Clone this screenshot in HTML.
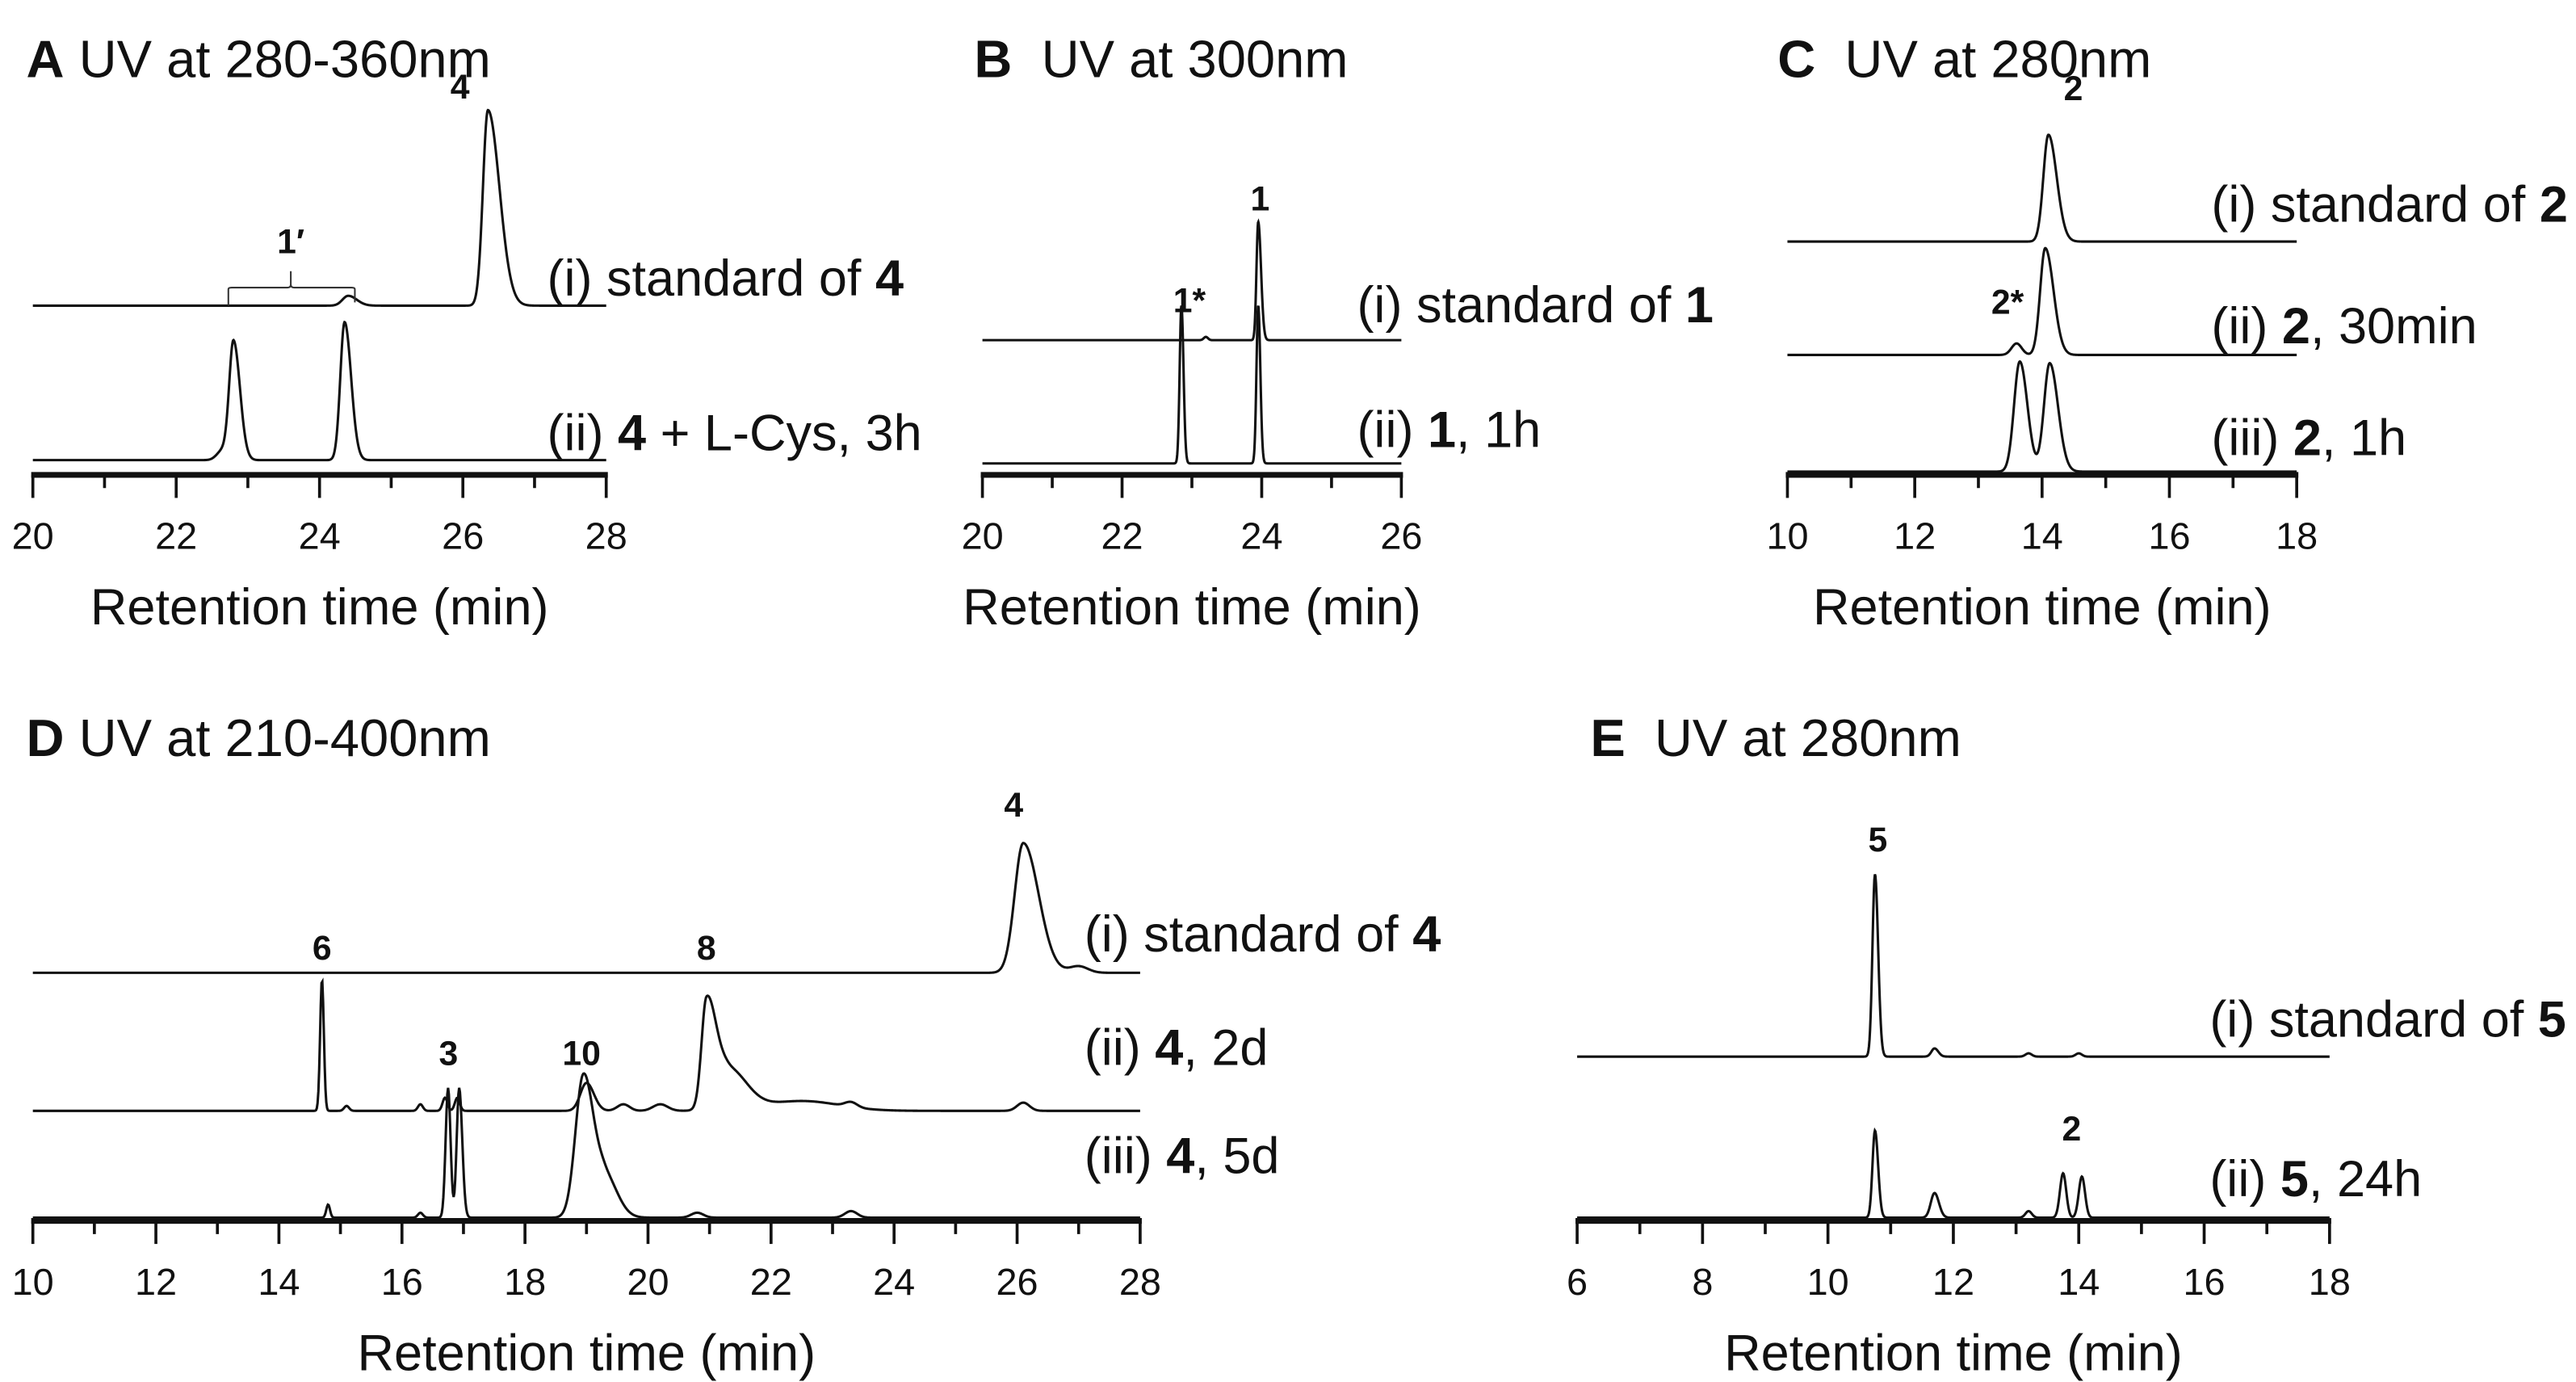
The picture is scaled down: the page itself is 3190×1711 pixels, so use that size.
<!DOCTYPE html>
<html><head><meta charset="utf-8"><style>
html,body{margin:0;padding:0;background:#fff;}
svg{display:block;}
text{font-family:"Liberation Sans",sans-serif;fill:#111;}
</style></head><body>
<svg id="fig" width="3190" height="1711" viewBox="0 0 1568 841" xmlns="http://www.w3.org/2000/svg"></svg>
<script>
// ---- data (retention time min, height, sigma-left, sigma-right) ----
const panelA_i = [[24.4,6,0.08,0.12],[26.35,119,0.07,0.16]];
const panelA_ii = [[22.8,72,0.06,0.09],[24.35,84,0.06,0.09],[22.65,6,0.08,0.08]];
const panelB_i = [[23.95,72,0.025,0.04],[23.2,2,0.03,0.03]];
const panelB_ii = [[22.85,96,0.025,0.03],[23.95,96,0.025,0.03]];
const panelC_i = [[14.1,65,0.08,0.13]];
const panelC_ii = [[13.6,7,0.08,0.08],[14.05,65,0.08,0.13]];
const panelC_iii = [[13.65,67,0.09,0.12],[14.12,66,0.09,0.13]];
const panelD_i = [[26.1,79,0.14,0.25],[27.0,4,0.15,0.15]];
const panelD_ii = [[14.7,80,0.03,0.03],[15.1,3,0.04,0.04],[16.3,4,0.04,0.04],[16.7,8,0.04,0.04],[16.9,8,0.04,0.04],[19.0,17,0.1,0.12],[19.6,4,0.1,0.1],[20.2,4,0.12,0.12],[20.95,64,0.08,0.15],[21.3,25,0.2,0.3],[22.5,6,0.6,0.6],[23.3,3,0.1,0.1],[26.1,5,0.1,0.1]];
const panelD_iii = [[14.8,8,0.03,0.03],[16.3,3,0.04,0.04],[16.75,79,0.04,0.04],[16.93,79,0.04,0.05],[18.95,86,0.13,0.16],[19.3,25,0.15,0.2],[20.8,3,0.1,0.1],[23.3,4,0.1,0.1]];
const panelE_i = [[10.75,111,0.04,0.05],[11.7,5,0.05,0.06],[13.2,2,0.05,0.05],[14.0,2,0.05,0.05]];
const panelE_ii = [[10.75,53,0.04,0.05],[11.7,15,0.06,0.07],[13.2,4,0.05,0.05],[13.75,27,0.05,0.05],[14.05,25,0.05,0.05]];
const tickLabelsA = ["20","22","24","26","28"];
const tickLabelsB = ["20","22","24","26"];
const tickLabelsC = ["10","12","14","16","18"];
const tickLabelsD = ["10","12","14","16","18","20","22","24","26","28"];
const tickLabelsE = ["6","8","10","12","14","16","18"];

const NS="http://www.w3.org/2000/svg";
const svg=document.getElementById('fig');
function mk(tag,attrs,parent){const e=document.createElementNS(NS,tag);for(const k in attrs)e.setAttribute(k,attrs[k]);(parent||svg).appendChild(e);return e;}
function txt(x,y,content,size,anchor,name,parent){
  const t=mk('text',{x:x,y:y,'font-size':size,'text-anchor':anchor||'start'},parent);
  t.innerHTML=content;
  
  
  return t;
}
function panel(cfg){
  const g=mk('g',{});
  
  
  const xs=t=>cfg.x0+(t-cfg.tmin)/(cfg.tmax-cfg.tmin)*(cfg.x1-cfg.x0);
  const ax=mk('g',{},g);
  
  
  mk('line',{x1:cfg.x0-1,x2:cfg.x1+1,y1:cfg.ay,y2:cfg.ay,stroke:'#111','stroke-width':3.5},ax);
  const labels=cfg.labels;
  const step=(cfg.tmax-cfg.tmin)/(labels.length-1);
  for(let v=cfg.tmin;v<=cfg.tmax+1e-6;v+=step/2){
    const major=Math.abs(((v-cfg.tmin)/step)-Math.round((v-cfg.tmin)/step))<1e-6;
    const tk=mk('line',{x1:xs(v),x2:xs(v),y1:cfg.ay,y2:cfg.ay+(major?14:8),stroke:'#111','stroke-width':1.8},ax);
    
    
  }
  labels.forEach((l,i)=>{txt(xs(cfg.tmin+i*step),cfg.ay+45,l,23,'middle','x-tick-label',ax);});
  txt((cfg.x0+cfg.x1)/2,cfg.ay+91,'Retention time (min)',31,'middle','x-axis-title',ax);
  cfg.traces.forEach((tr,ti)=>{
    let d='';
    for(let t=cfg.tmin;t<=cfg.tmax+1e-9;t+=(cfg.tmax-cfg.tmin)/1400){
      let y=0;
      tr.peaks.forEach(p=>{const s=t<p[0]?p[2]:p[3];y+=p[1]*Math.exp(-0.5*Math.pow((t-p[0])/s,2));});
      d+=(d?'L':'M')+xs(t).toFixed(2)+','+(tr.base-y).toFixed(2);
    }
    const path=mk('path',{d:d,fill:'none',stroke:'#111','stroke-width':1.5},g);
    
    
    txt(cfg.lx,tr.ly,tr.label,31,'start','trace-label-'+tr.id,g);
  });
  txt(cfg.tx,cfg.ty,cfg.title,32,'start','panel-title',g);
  (cfg.ann||[]).forEach(a=>txt(a[0],a[1],a[2],21,'middle','peak-label',g).setAttribute('font-weight','bold'));
  return g;
}
panel({name:'panel-a',tmin:20,tmax:28,x0:20,x1:369,ay:289,labels:tickLabelsA,lx:333,tx:16,ty:47,
  title:'<tspan font-weight="bold">A</tspan> UV at 280-360nm',
  traces:[{id:'a-i',base:186,peaks:panelA_i,ly:180,label:'(i) standard of <tspan font-weight="bold">4</tspan>'},
          {id:'a-ii',base:280,peaks:panelA_ii,ly:274,label:'(ii) <tspan font-weight="bold">4</tspan> + L-Cys, 3h'}],
  ann:[[280,60,'4'],[177,154,'1′']]});
const br=mk('path',{d:'M139,186 L139,176 Q139,175 141,175 L175,175 Q177,175 177,173 L177,165 L177,173 Q177,175 179,175 L214,175 Q216,175 216,176 L216,184',fill:'none',stroke:'#333','stroke-width':1});


panel({name:'panel-b',tmin:20,tmax:26,x0:598,x1:853,ay:289,labels:tickLabelsB,lx:826,tx:593,ty:47,
  title:'<tspan font-weight="bold">B</tspan>&#160; UV at 300nm',
  traces:[{id:'b-i',base:207,peaks:panelB_i,ly:196,label:'(i) standard of <tspan font-weight="bold">1</tspan>'},
          {id:'b-ii',base:282,peaks:panelB_ii,ly:272,label:'(ii) <tspan font-weight="bold">1</tspan>, 1h'}],
  ann:[[724,190,'1*'],[767,128,'1']]});
panel({name:'panel-c',tmin:10,tmax:18,x0:1088,x1:1398,ay:289,labels:tickLabelsC,lx:1346,tx:1082,ty:47,
  title:'<tspan font-weight="bold">C</tspan>&#160; UV at 280nm',
  traces:[{id:'c-i',base:147,peaks:panelC_i,ly:135,label:'(i) standard of <tspan font-weight="bold">2</tspan>'},
          {id:'c-ii',base:216,peaks:panelC_ii,ly:209,label:'(ii) <tspan font-weight="bold">2</tspan>, 30min'},
          {id:'c-iii',base:287,peaks:panelC_iii,ly:277,label:'(iii) <tspan font-weight="bold">2</tspan>, 1h'}],
  ann:[[1262,61,'2'],[1222,191,'2*']]});
panel({name:'panel-d',tmin:10,tmax:28,x0:20,x1:694,ay:743,labels:tickLabelsD,lx:660,tx:16,ty:460,
  title:'<tspan font-weight="bold">D</tspan> UV at 210-400nm',
  traces:[{id:'d-i',base:592,peaks:panelD_i,ly:579,label:'(i) standard of <tspan font-weight="bold">4</tspan>'},
          {id:'d-ii',base:676,peaks:panelD_ii,ly:648,label:'(ii) <tspan font-weight="bold">4</tspan>, 2d'},
          {id:'d-iii',base:741,peaks:panelD_iii,ly:714,label:'(iii) <tspan font-weight="bold">4</tspan>, 5d'}],
  ann:[[196,584,'6'],[430,584,'8'],[617,497,'4'],[273,648,'3'],[354,648,'10']]});
panel({name:'panel-e',tmin:6,tmax:18,x0:960,x1:1418,ay:743,labels:tickLabelsE,lx:1345,tx:968,ty:460,
  title:'<tspan font-weight="bold">E</tspan>&#160; UV at 280nm',
  traces:[{id:'e-i',base:643,peaks:panelE_i,ly:631,label:'(i) standard of <tspan font-weight="bold">5</tspan>'},
          {id:'e-ii',base:741,peaks:panelE_ii,ly:728,label:'(ii) <tspan font-weight="bold">5</tspan>, 24h'}],
  ann:[[1143,518,'5'],[1261,694,'2']]});
</script>
</body></html>
